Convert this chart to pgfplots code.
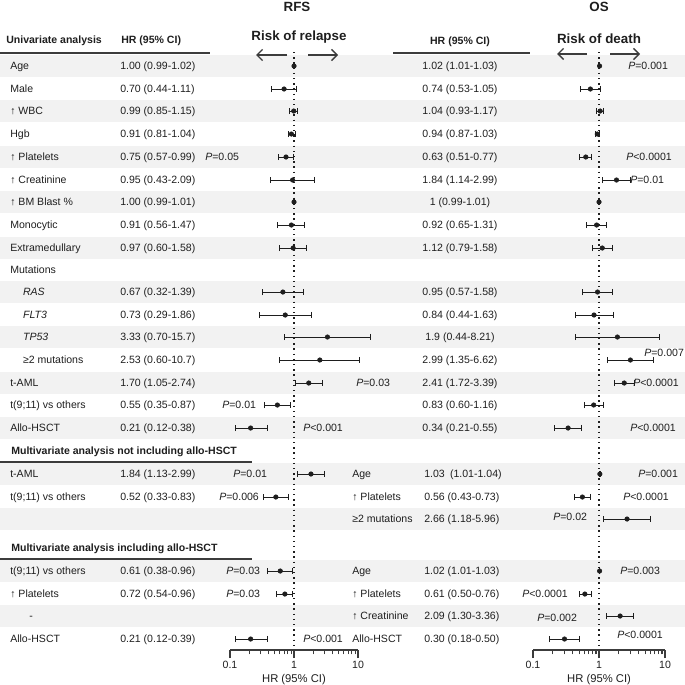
\documentclass[border=0pt]{standalone}
\usepackage{fontspec}
\setmainfont{Liberation Sans}
\usepackage{pgfplots}
\usepackage{pgfplotstable}
\pgfplotsset{compat=1.18}
\usetikzlibrary{arrows.meta}
\definecolor{rowgray}{RGB}{242,242,242}
\definecolor{ink}{RGB}{30,30,30}
\definecolor{rule}{RGB}{60,60,60}

% y = row position (px from top), hazard ratio with 95% CI
\pgfplotstableread{
y   hr   lo   hi
66  1.00 0.99 1.02
89  0.70 0.44 1.11
111 0.99 0.85 1.15
134 0.91 0.81 1.04
157 0.75 0.57 0.99
180 0.95 0.43 2.09
202 1.00 0.99 1.01
225 0.91 0.56 1.47
248 0.97 0.60 1.58
292 0.67 0.32 1.39
315 0.73 0.29 1.86
337 3.33 0.70 15.7
360 2.53 0.60 10.7
383 1.70 1.05 2.74
405 0.55 0.35 0.87
428 0.21 0.12 0.38
474 1.84 1.13 2.99
497 0.52 0.33 0.83
571 0.61 0.38 0.96
594 0.72 0.54 0.96
639 0.21 0.12 0.39
}\rfs

\pgfplotstableread{
y   hr   lo   hi
66  1.02 1.01 1.03
89  0.74 0.53 1.05
111 1.04 0.93 1.17
134 0.94 0.87 1.03
157 0.63 0.51 0.77
180 1.84 1.14 2.99
202 1.00 0.99 1.01
225 0.92 0.65 1.31
248 1.12 0.79 1.58
292 0.95 0.57 1.58
315 0.84 0.44 1.63
337 1.90 0.44 8.21
360 2.99 1.35 6.62
383 2.41 1.72 3.39
405 0.83 0.60 1.16
428 0.34 0.21 0.55
474 1.03 1.01 1.04
497 0.56 0.43 0.73
519 2.66 1.18 5.96
571 1.02 1.01 1.03
594 0.61 0.50 0.76
616 2.09 1.30 3.36
639 0.30 0.18 0.50
}\os

\tikzset{
  lab/.style={anchor=base west, inner sep=0pt, yshift=-0.9mm,
    font=\fontsize{7.5}{9}\selectfont, text=ink},
  mid/.style={lab, anchor=base},
  hd/.style={lab, font=\fontsize{7.5}{9}\selectfont\bfseries},
  big/.style={anchor=base, inner sep=0pt, font=\fontsize{9.5}{11}\selectfont\bfseries, text=ink},
  hdrule/.style={rule, line width=1.1pt},
  riskarrow/.style={rule, line width=1pt, -{Straight Barb[length=1.4mm, width=2.8mm]}},
  refline/.style={ink, line width=0.35mm, dash pattern=on 0.35mm off 0.95mm},
}

\newcommand\row[4]{%
  \node[lab] at (10,#1) {#2};
  \node[lab] at (120,#1) {#3};
  \node[mid] at (460,#1) {#4};}
\newcommand\pv[3]{\node[lab] at (#1,#2) {\textit{P}#3};}
\newcommand\tx[3]{\node[lab] at (#1,#2) {#3};}

\begin{document}
\begin{tikzpicture}[x=0.25mm, y=-0.25mm]
\useasboundingbox (0,0) rectangle (685,685);

% alternating row shading
\foreach \y in {66,111,157,202,248,292,337,383,428,474,519,571,616}
  \fill[rowgray] (0,\y-11.3) rectangle (685,\y+11.3);

% RFS panel
\begin{axis}[
  scale only axis, width=32mm, height=150.75mm,
  at={(57.5mm,-162.5mm)}, anchor=south west,
  xmode=log, xmin=0.1, xmax=10,
  ymin=47, ymax=650, y dir=reverse, clip=false,
  axis x line*=bottom, axis y line=none,
  xtick={0.1,1,10}, xticklabels={0.1,1,10},
  minor xtick={0.2,0.3,0.4,0.5,0.6,0.7,0.8,0.9,2,3,4,5,6,7,8,9},
  xtick align=outside, major tick length=2mm, minor tick length=1.1mm,
  every tick/.style={rule, line width=0.8pt},
  axis line style={rule, line width=0.8pt},
  ticklabel style={font=\fontsize{7.5}{9}\selectfont, text=ink},
  xticklabel style={yshift=0.5mm},
  xlabel={HR (95\% CI)},
  xlabel style={font=\fontsize{8}{9}\selectfont, text=ink, yshift=0.9mm},
]
\addplot[refline] coordinates {(1,52) (1,650)};
\addplot[only marks, mark=*, mark size=1.6pt, ink,
    error bars/.cd, x dir=both, x explicit,
    error bar style={line width=0.7pt, ink},
    error mark options={rotate=90, mark size=2.2pt, line width=0.7pt, ink}]
  table[x=hr, y=y,
  x error plus expr=\thisrow{hi}-\thisrow{hr},
  x error minus expr=\thisrow{hr}-\thisrow{lo}] {\rfs};
\end{axis}

% OS panel
\begin{axis}[
  scale only axis, width=33mm, height=150.75mm,
  at={(133.25mm,-162.5mm)}, anchor=south west,
  xmode=log, xmin=0.1, xmax=10,
  ymin=47, ymax=650, y dir=reverse, clip=false,
  axis x line*=bottom, axis y line=none,
  xtick={0.1,1,10}, xticklabels={0.1,1,10},
  minor xtick={0.2,0.3,0.4,0.5,0.6,0.7,0.8,0.9,2,3,4,5,6,7,8,9},
  xtick align=outside, major tick length=2mm, minor tick length=1.1mm,
  every tick/.style={rule, line width=0.8pt},
  axis line style={rule, line width=0.8pt},
  ticklabel style={font=\fontsize{7.5}{9}\selectfont, text=ink},
  xticklabel style={yshift=0.5mm},
  xlabel={HR (95\% CI)},
  xlabel style={font=\fontsize{8}{9}\selectfont, text=ink, yshift=0.9mm},
]
\addplot[refline] coordinates {(1,52) (1,650)};
\addplot[only marks, mark=*, mark size=1.6pt, ink,
    error bars/.cd, x dir=both, x explicit,
    error bar style={line width=0.7pt, ink},
    error mark options={rotate=90, mark size=2.2pt, line width=0.7pt, ink}]
  table[x=hr, y=y,
  x error plus expr=\thisrow{hi}-\thisrow{hr},
  x error minus expr=\thisrow{hr}-\thisrow{lo}] {\os};
\end{axis}

% panel titles and arrows
\node[big] at (297,12) {RFS};
\node[big] at (599,12) {OS};
\node[big] at (299,41) {Risk of relapse};
\node[big] at (599,44) {Risk of death};
\draw[riskarrow] (287,55) -- (256,55);
\draw[riskarrow] (308,55) -- (338,55);
\draw[riskarrow] (587,54) -- (557,54);
\draw[riskarrow] (610,54) -- (640,54);

% table headers
\node[hd] at (6,40) {Univariate analysis};
\node[hd] at (121,40) {HR (95\% CI)};
\node[hd, anchor=base] at (460,41) {HR (95\% CI)};
\draw[hdrule] (0,53) -- (210,53);
\draw[hdrule] (393,53) -- (530,53);

% univariate rows
\row{66}{Age}{1.00 (0.99-1.02)}{1.02 (1.01-1.03)}
\row{89}{Male}{0.70 (0.44-1.11)}{0.74 (0.53-1.05)}
\row{111}{↑ WBC}{0.99 (0.85-1.15)}{1.04 (0.93-1.17)}
\row{134}{Hgb}{0.91 (0.81-1.04)}{0.94 (0.87-1.03)}
\row{157}{↑ Platelets}{0.75 (0.57-0.99)}{0.63 (0.51-0.77)}
\row{180}{↑ Creatinine}{0.95 (0.43-2.09)}{1.84 (1.14-2.99)}
\row{202}{↑ BM Blast \%}{1.00 (0.99-1.01)}{1 (0.99-1.01)}
\row{225}{Monocytic}{0.91 (0.56-1.47)}{0.92 (0.65-1.31)}
\row{248}{Extramedullary}{0.97 (0.60-1.58)}{1.12 (0.79-1.58)}
\row{270}{Mutations}{}{}
\row{292}{\hspace*{3.2mm}\textit{RAS}}{0.67 (0.32-1.39)}{0.95 (0.57-1.58)}
\row{315}{\hspace*{3.2mm}\textit{FLT3}}{0.73 (0.29-1.86)}{0.84 (0.44-1.63)}
\row{337}{\hspace*{3.2mm}\textit{TP53}}{3.33 (0.70-15.7)}{1.9 (0.44-8.21)}
\row{360}{\hspace*{3.2mm}≥2 mutations}{2.53 (0.60-10.7)}{2.99 (1.35-6.62)}
\row{383}{t-AML}{1.70 (1.05-2.74)}{2.41 (1.72-3.39)}
\row{405}{t(9;11) vs others}{0.55 (0.35-0.87)}{0.83 (0.60-1.16)}
\row{428}{Allo-HSCT}{0.21 (0.12-0.38)}{0.34 (0.21-0.55)}

% multivariate, not including allo-HSCT
\node[hd] at (11,451) {Multivariate analysis not including allo-HSCT};
\draw[hdrule] (0,462) -- (252,462);
\tx{10}{474}{t-AML}           \tx{120}{474}{1.84 (1.13-2.99)}
\tx{10}{497}{t(9;11) vs others} \tx{120}{497}{0.52 (0.33-0.83)}
\tx{352}{474}{Age}            \tx{424}{474}{1.03\enspace(1.01-1.04)}
\tx{352}{497}{↑ Platelets}    \tx{424}{497}{0.56 (0.43-0.73)}
\tx{352}{519}{≥2 mutations}   \tx{424}{519}{2.66 (1.18-5.96)}

% multivariate, including allo-HSCT
\node[hd] at (11,548) {Multivariate analysis including allo-HSCT};
\draw[hdrule] (0,559) -- (252,559);
\tx{10}{571}{t(9;11) vs others} \tx{120}{571}{0.61 (0.38-0.96)}
\tx{10}{594}{↑ Platelets}     \tx{120}{594}{0.72 (0.54-0.96)}
\tx{29}{616}{-}
\tx{10}{639}{Allo-HSCT}       \tx{120}{639}{0.21 (0.12-0.39)}
\tx{352}{571}{Age}            \tx{424}{571}{1.02 (1.01-1.03)}
\tx{352}{594}{↑ Platelets}    \tx{424}{594}{0.61 (0.50-0.76)}
\tx{352}{616}{↑ Creatinine}   \tx{424}{616}{2.09 (1.30-3.36)}
\tx{352}{639}{Allo-HSCT}      \tx{424}{639}{0.30 (0.18-0.50)}

% P values, RFS
\pv{205}{157}{=0.05}
\pv{356}{383}{=0.03}
\pv{222}{405}{=0.01}
\pv{303}{428}{<0.001}
\pv{233}{474}{=0.01}
\pv{219}{497}{=0.006}
\pv{226}{571}{=0.03}
\pv{226}{594}{=0.03}
\pv{303}{639}{<0.001}
% P values, OS
\pv{628}{66}{=0.001}
\pv{626}{157}{<0.0001}
\pv{630}{180}{=0.01}
\pv{644}{353}{=0.007}
\pv{633}{383}{<0.0001}
\pv{630}{428}{<0.0001}
\pv{638}{474}{=0.001}
\pv{623}{497}{<0.0001}
\pv{553}{517}{=0.02}
\pv{620}{571}{=0.003}
\pv{522}{594}{<0.0001}
\pv{537}{618}{=0.002}
\pv{617}{635}{<0.0001}
\end{tikzpicture}
\end{document}
